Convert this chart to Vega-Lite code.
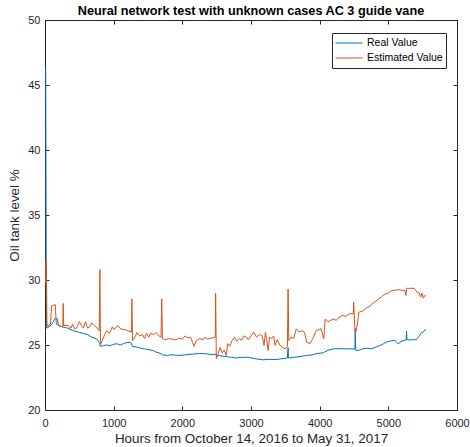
{
  "$schema": "https://vega.github.io/schema/vega-lite/v6.json",
  "autosize": "none",
  "width": 412,
  "height": 390,
  "padding": {"left": 45, "top": 20, "right": 13, "bottom": 37},
  "background": "white",
  "title": {"text": "Neural network test with unknown cases AC 3 guide vane", "font": "Liberation Sans", "fontSize": 12.7, "fontWeight": "bold", "color": "#000000", "offset": -4, "anchor": "middle", "frame": "group"},
  "config": {"view": {"stroke": null}, "font": "Liberation Sans"},
  "datasets": {
    "series": [
      {"series": "Real Value", "x": 10, "y": 46.3},
      {"series": "Real Value", "x": 14, "y": 38},
      {"series": "Real Value", "x": 18, "y": 30},
      {"series": "Real Value", "x": 24, "y": 26.3},
      {"series": "Real Value", "x": 60, "y": 26.4},
      {"series": "Real Value", "x": 100, "y": 26.6},
      {"series": "Real Value", "x": 150, "y": 27.06},
      {"series": "Real Value", "x": 180, "y": 27.0},
      {"series": "Real Value", "x": 195, "y": 26.5},
      {"series": "Real Value", "x": 250, "y": 26.4},
      {"series": "Real Value", "x": 330, "y": 26.3},
      {"series": "Real Value", "x": 412, "y": 26.1},
      {"series": "Real Value", "x": 480, "y": 26.0},
      {"series": "Real Value", "x": 550, "y": 25.9},
      {"series": "Real Value", "x": 620, "y": 25.8},
      {"series": "Real Value", "x": 680, "y": 25.6},
      {"series": "Real Value", "x": 752, "y": 25.48},
      {"series": "Real Value", "x": 790, "y": 25.2},
      {"series": "Real Value", "x": 800, "y": 25.1},
      {"series": "Real Value", "x": 805, "y": 24.9},
      {"series": "Real Value", "x": 850, "y": 24.95},
      {"series": "Real Value", "x": 900, "y": 25.0},
      {"series": "Real Value", "x": 950, "y": 24.95},
      {"series": "Real Value", "x": 1000, "y": 25.05},
      {"series": "Real Value", "x": 1044, "y": 25.1},
      {"series": "Real Value", "x": 1100, "y": 25.0},
      {"series": "Real Value", "x": 1160, "y": 25.15},
      {"series": "Real Value", "x": 1238, "y": 25.22},
      {"series": "Real Value", "x": 1260, "y": 25.1},
      {"series": "Real Value", "x": 1270, "y": 24.88},
      {"series": "Real Value", "x": 1330, "y": 24.85},
      {"series": "Real Value", "x": 1400, "y": 24.75},
      {"series": "Real Value", "x": 1450, "y": 24.7},
      {"series": "Real Value", "x": 1500, "y": 24.65},
      {"series": "Real Value", "x": 1577, "y": 24.58},
      {"series": "Real Value", "x": 1620, "y": 24.45},
      {"series": "Real Value", "x": 1674, "y": 24.37},
      {"series": "Real Value", "x": 1695, "y": 24.3},
      {"series": "Real Value", "x": 1705, "y": 24.25},
      {"series": "Real Value", "x": 1780, "y": 24.2},
      {"series": "Real Value", "x": 1850, "y": 24.25},
      {"series": "Real Value", "x": 1920, "y": 24.2},
      {"series": "Real Value", "x": 1966, "y": 24.2},
      {"series": "Real Value", "x": 2050, "y": 24.25},
      {"series": "Real Value", "x": 2150, "y": 24.3},
      {"series": "Real Value", "x": 2250, "y": 24.35},
      {"series": "Real Value", "x": 2354, "y": 24.32},
      {"series": "Real Value", "x": 2450, "y": 24.25},
      {"series": "Real Value", "x": 2490, "y": 24.3},
      {"series": "Real Value", "x": 2500, "y": 24.2},
      {"series": "Real Value", "x": 2580, "y": 24.15},
      {"series": "Real Value", "x": 2650, "y": 24.1},
      {"series": "Real Value", "x": 2720, "y": 24.05},
      {"series": "Real Value", "x": 2791, "y": 24.0},
      {"series": "Real Value", "x": 2860, "y": 24.05},
      {"series": "Real Value", "x": 2960, "y": 24.06},
      {"series": "Real Value", "x": 3050, "y": 23.95},
      {"series": "Real Value", "x": 3120, "y": 23.9},
      {"series": "Real Value", "x": 3178, "y": 23.86},
      {"series": "Real Value", "x": 3260, "y": 23.9},
      {"series": "Real Value", "x": 3373, "y": 23.88},
      {"series": "Real Value", "x": 3450, "y": 23.95},
      {"series": "Real Value", "x": 3530, "y": 24.0},
      {"series": "Real Value", "x": 3540, "y": 24.8},
      {"series": "Real Value", "x": 3545, "y": 24.0},
      {"series": "Real Value", "x": 3620, "y": 24.05},
      {"series": "Real Value", "x": 3700, "y": 24.1},
      {"series": "Real Value", "x": 3760, "y": 24.15},
      {"series": "Real Value", "x": 3810, "y": 24.19},
      {"series": "Real Value", "x": 3900, "y": 24.25},
      {"series": "Real Value", "x": 3960, "y": 24.35},
      {"series": "Real Value", "x": 4052, "y": 24.4},
      {"series": "Real Value", "x": 4120, "y": 24.6},
      {"series": "Real Value", "x": 4198, "y": 24.7},
      {"series": "Real Value", "x": 4300, "y": 24.72},
      {"series": "Real Value", "x": 4400, "y": 24.7},
      {"series": "Real Value", "x": 4514, "y": 24.7},
      {"series": "Real Value", "x": 4518, "y": 26.25},
      {"series": "Real Value", "x": 4525, "y": 24.6},
      {"series": "Real Value", "x": 4562, "y": 24.58},
      {"series": "Real Value", "x": 4620, "y": 24.7},
      {"series": "Real Value", "x": 4684, "y": 24.75},
      {"series": "Real Value", "x": 4750, "y": 24.7},
      {"series": "Real Value", "x": 4820, "y": 24.85},
      {"series": "Real Value", "x": 4878, "y": 24.96},
      {"series": "Real Value", "x": 4930, "y": 25.1},
      {"series": "Real Value", "x": 4975, "y": 25.22},
      {"series": "Real Value", "x": 5020, "y": 25.3},
      {"series": "Real Value", "x": 5096, "y": 25.35},
      {"series": "Real Value", "x": 5144, "y": 25.1},
      {"series": "Real Value", "x": 5200, "y": 25.3},
      {"series": "Real Value", "x": 5260, "y": 25.4},
      {"series": "Real Value", "x": 5265, "y": 26.06},
      {"series": "Real Value", "x": 5272, "y": 25.4},
      {"series": "Real Value", "x": 5340, "y": 25.4},
      {"series": "Real Value", "x": 5412, "y": 25.42},
      {"series": "Real Value", "x": 5450, "y": 25.7},
      {"series": "Real Value", "x": 5485, "y": 25.98},
      {"series": "Real Value", "x": 5510, "y": 26.0},
      {"series": "Real Value", "x": 5533, "y": 26.17},
      {"series": "Real Value", "x": 5545, "y": 26.2},
      {"series": "Estimated Value", "x": 8, "y": 29.7},
      {"series": "Estimated Value", "x": 16, "y": 31.6},
      {"series": "Estimated Value", "x": 22, "y": 30.0},
      {"series": "Estimated Value", "x": 28, "y": 26.5},
      {"series": "Estimated Value", "x": 60, "y": 26.5},
      {"series": "Estimated Value", "x": 80, "y": 26.6},
      {"series": "Estimated Value", "x": 95, "y": 28.0},
      {"series": "Estimated Value", "x": 150, "y": 28.1},
      {"series": "Estimated Value", "x": 165, "y": 26.6},
      {"series": "Estimated Value", "x": 200, "y": 26.5},
      {"series": "Estimated Value", "x": 260, "y": 26.4},
      {"series": "Estimated Value", "x": 265, "y": 28.2},
      {"series": "Estimated Value", "x": 272, "y": 26.5},
      {"series": "Estimated Value", "x": 330, "y": 26.5},
      {"series": "Estimated Value", "x": 380, "y": 26.3},
      {"series": "Estimated Value", "x": 400, "y": 26.6},
      {"series": "Estimated Value", "x": 440, "y": 26.2},
      {"series": "Estimated Value", "x": 470, "y": 26.4},
      {"series": "Estimated Value", "x": 500, "y": 26.8},
      {"series": "Estimated Value", "x": 530, "y": 26.5},
      {"series": "Estimated Value", "x": 560, "y": 26.3},
      {"series": "Estimated Value", "x": 590, "y": 26.8},
      {"series": "Estimated Value", "x": 620, "y": 26.3},
      {"series": "Estimated Value", "x": 650, "y": 26.4},
      {"series": "Estimated Value", "x": 680, "y": 26.7},
      {"series": "Estimated Value", "x": 720, "y": 26.5},
      {"series": "Estimated Value", "x": 760, "y": 26.3},
      {"series": "Estimated Value", "x": 790, "y": 26.1},
      {"series": "Estimated Value", "x": 800, "y": 30.8},
      {"series": "Estimated Value", "x": 808, "y": 25.0},
      {"series": "Estimated Value", "x": 830, "y": 25.3},
      {"series": "Estimated Value", "x": 870, "y": 25.8},
      {"series": "Estimated Value", "x": 900, "y": 26.1},
      {"series": "Estimated Value", "x": 940, "y": 25.9},
      {"series": "Estimated Value", "x": 980, "y": 26.4},
      {"series": "Estimated Value", "x": 1000, "y": 26.2},
      {"series": "Estimated Value", "x": 1030, "y": 26.3},
      {"series": "Estimated Value", "x": 1060, "y": 26.5},
      {"series": "Estimated Value", "x": 1090, "y": 26.3},
      {"series": "Estimated Value", "x": 1120, "y": 26.2},
      {"series": "Estimated Value", "x": 1150, "y": 26.2},
      {"series": "Estimated Value", "x": 1200, "y": 26.1},
      {"series": "Estimated Value", "x": 1260, "y": 26.0},
      {"series": "Estimated Value", "x": 1265, "y": 28.55},
      {"series": "Estimated Value", "x": 1275, "y": 25.35},
      {"series": "Estimated Value", "x": 1300, "y": 25.5},
      {"series": "Estimated Value", "x": 1340, "y": 25.95},
      {"series": "Estimated Value", "x": 1380, "y": 25.7},
      {"series": "Estimated Value", "x": 1420, "y": 25.8},
      {"series": "Estimated Value", "x": 1450, "y": 25.5},
      {"series": "Estimated Value", "x": 1480, "y": 25.9},
      {"series": "Estimated Value", "x": 1510, "y": 25.6},
      {"series": "Estimated Value", "x": 1540, "y": 25.9},
      {"series": "Estimated Value", "x": 1580, "y": 25.8},
      {"series": "Estimated Value", "x": 1620, "y": 25.95},
      {"series": "Estimated Value", "x": 1660, "y": 25.7},
      {"series": "Estimated Value", "x": 1690, "y": 25.6},
      {"series": "Estimated Value", "x": 1700, "y": 28.55},
      {"series": "Estimated Value", "x": 1710, "y": 25.5},
      {"series": "Estimated Value", "x": 1760, "y": 25.4},
      {"series": "Estimated Value", "x": 1800, "y": 25.5},
      {"series": "Estimated Value", "x": 1850, "y": 25.45},
      {"series": "Estimated Value", "x": 1900, "y": 25.4},
      {"series": "Estimated Value", "x": 1950, "y": 25.5},
      {"series": "Estimated Value", "x": 2000, "y": 25.45},
      {"series": "Estimated Value", "x": 2040, "y": 25.7},
      {"series": "Estimated Value", "x": 2080, "y": 25.55},
      {"series": "Estimated Value", "x": 2120, "y": 25.6},
      {"series": "Estimated Value", "x": 2150, "y": 25.2},
      {"series": "Estimated Value", "x": 2170, "y": 24.9},
      {"series": "Estimated Value", "x": 2200, "y": 25.3},
      {"series": "Estimated Value", "x": 2250, "y": 25.5},
      {"series": "Estimated Value", "x": 2300, "y": 25.4},
      {"series": "Estimated Value", "x": 2330, "y": 25.6},
      {"series": "Estimated Value", "x": 2360, "y": 25.45},
      {"series": "Estimated Value", "x": 2400, "y": 25.5},
      {"series": "Estimated Value", "x": 2440, "y": 25.55},
      {"series": "Estimated Value", "x": 2480, "y": 25.6},
      {"series": "Estimated Value", "x": 2485, "y": 29.0},
      {"series": "Estimated Value", "x": 2495, "y": 23.95},
      {"series": "Estimated Value", "x": 2520, "y": 24.3},
      {"series": "Estimated Value", "x": 2550, "y": 24.8},
      {"series": "Estimated Value", "x": 2580, "y": 24.4},
      {"series": "Estimated Value", "x": 2610, "y": 24.6},
      {"series": "Estimated Value", "x": 2640, "y": 24.2},
      {"series": "Estimated Value", "x": 2660, "y": 25.1},
      {"series": "Estimated Value", "x": 2690, "y": 24.9},
      {"series": "Estimated Value", "x": 2720, "y": 25.3},
      {"series": "Estimated Value", "x": 2760, "y": 25.6},
      {"series": "Estimated Value", "x": 2790, "y": 25.3},
      {"series": "Estimated Value", "x": 2830, "y": 25.5},
      {"series": "Estimated Value", "x": 2860, "y": 25.35},
      {"series": "Estimated Value", "x": 2900, "y": 25.7},
      {"series": "Estimated Value", "x": 2930, "y": 25.6},
      {"series": "Estimated Value", "x": 2960, "y": 25.4},
      {"series": "Estimated Value", "x": 3000, "y": 25.7},
      {"series": "Estimated Value", "x": 3040, "y": 25.98},
      {"series": "Estimated Value", "x": 3080, "y": 25.6},
      {"series": "Estimated Value", "x": 3120, "y": 25.8},
      {"series": "Estimated Value", "x": 3160, "y": 25.73},
      {"series": "Estimated Value", "x": 3190, "y": 24.96},
      {"series": "Estimated Value", "x": 3210, "y": 25.98},
      {"series": "Estimated Value", "x": 3230, "y": 25.4},
      {"series": "Estimated Value", "x": 3250, "y": 24.58},
      {"series": "Estimated Value", "x": 3270, "y": 25.6},
      {"series": "Estimated Value", "x": 3300, "y": 25.5},
      {"series": "Estimated Value", "x": 3330, "y": 25.7},
      {"series": "Estimated Value", "x": 3350, "y": 24.96},
      {"series": "Estimated Value", "x": 3380, "y": 25.4},
      {"series": "Estimated Value", "x": 3420, "y": 25.0},
      {"series": "Estimated Value", "x": 3460, "y": 24.8},
      {"series": "Estimated Value", "x": 3500, "y": 24.7},
      {"series": "Estimated Value", "x": 3530, "y": 24.9},
      {"series": "Estimated Value", "x": 3540, "y": 29.3},
      {"series": "Estimated Value", "x": 3550, "y": 25.35},
      {"series": "Estimated Value", "x": 3580, "y": 25.6},
      {"series": "Estimated Value", "x": 3620, "y": 25.5},
      {"series": "Estimated Value", "x": 3660, "y": 26.25},
      {"series": "Estimated Value", "x": 3700, "y": 26.0},
      {"series": "Estimated Value", "x": 3740, "y": 26.1},
      {"series": "Estimated Value", "x": 3780, "y": 25.98},
      {"series": "Estimated Value", "x": 3810, "y": 25.22},
      {"series": "Estimated Value", "x": 3860, "y": 25.1},
      {"series": "Estimated Value", "x": 3900, "y": 25.5},
      {"series": "Estimated Value", "x": 3950, "y": 26.1},
      {"series": "Estimated Value", "x": 4000, "y": 26.2},
      {"series": "Estimated Value", "x": 4020, "y": 26.25},
      {"series": "Estimated Value", "x": 4060, "y": 25.48},
      {"series": "Estimated Value", "x": 4080, "y": 27.0},
      {"series": "Estimated Value", "x": 4120, "y": 26.8},
      {"series": "Estimated Value", "x": 4160, "y": 26.88},
      {"series": "Estimated Value", "x": 4200, "y": 27.0},
      {"series": "Estimated Value", "x": 4240, "y": 26.9},
      {"series": "Estimated Value", "x": 4280, "y": 27.1},
      {"series": "Estimated Value", "x": 4330, "y": 27.27},
      {"series": "Estimated Value", "x": 4380, "y": 27.2},
      {"series": "Estimated Value", "x": 4430, "y": 27.4},
      {"series": "Estimated Value", "x": 4490, "y": 27.4},
      {"series": "Estimated Value", "x": 4495, "y": 28.3},
      {"series": "Estimated Value", "x": 4510, "y": 26.5},
      {"series": "Estimated Value", "x": 4520, "y": 25.86},
      {"series": "Estimated Value", "x": 4550, "y": 26.6},
      {"series": "Estimated Value", "x": 4570, "y": 27.52},
      {"series": "Estimated Value", "x": 4620, "y": 27.6},
      {"series": "Estimated Value", "x": 4660, "y": 27.78},
      {"series": "Estimated Value", "x": 4700, "y": 27.9},
      {"series": "Estimated Value", "x": 4740, "y": 28.0},
      {"series": "Estimated Value", "x": 4760, "y": 28.17},
      {"series": "Estimated Value", "x": 4800, "y": 28.3},
      {"series": "Estimated Value", "x": 4860, "y": 28.55},
      {"series": "Estimated Value", "x": 4900, "y": 28.7},
      {"series": "Estimated Value", "x": 4960, "y": 28.94},
      {"series": "Estimated Value", "x": 5000, "y": 29.0},
      {"series": "Estimated Value", "x": 5050, "y": 29.19},
      {"series": "Estimated Value", "x": 5100, "y": 29.22},
      {"series": "Estimated Value", "x": 5150, "y": 29.25},
      {"series": "Estimated Value", "x": 5200, "y": 29.2},
      {"series": "Estimated Value", "x": 5240, "y": 29.2},
      {"series": "Estimated Value", "x": 5255, "y": 28.81},
      {"series": "Estimated Value", "x": 5270, "y": 29.37},
      {"series": "Estimated Value", "x": 5300, "y": 29.35},
      {"series": "Estimated Value", "x": 5330, "y": 29.37},
      {"series": "Estimated Value", "x": 5380, "y": 29.35},
      {"series": "Estimated Value", "x": 5420, "y": 29.06},
      {"series": "Estimated Value", "x": 5450, "y": 29.0},
      {"series": "Estimated Value", "x": 5470, "y": 28.68},
      {"series": "Estimated Value", "x": 5490, "y": 29.0},
      {"series": "Estimated Value", "x": 5510, "y": 28.6},
      {"series": "Estimated Value", "x": 5530, "y": 28.8},
      {"series": "Estimated Value", "x": 5545, "y": 28.8}
    ]
  },
  "data": {"name": "series"},
  "resolve": {"axis": {"x": "independent", "y": "independent"}},
  "layer": [
    {
      "mark": {"type": "line", "strokeWidth": 1, "clip": true},
      "encoding": {
        "x": {"field": "x", "type": "quantitative", "scale": {"domain": [0, 6000], "nice": false},
          "axis": {"orient": "bottom", "values": [0, 1000, 2000, 3000, 4000, 5000, 6000], "format": "d", "grid": false, "title": "Hours from October 14, 2016 to  May 31, 2017",
            "titleFont": "Liberation Sans", "titleFontSize": 13.4, "titleFontWeight": "normal", "titleColor": "#262626", "titlePadding": 3,
            "labelFont": "Liberation Sans", "labelFontSize": 11, "labelColor": "#262626", "labelPadding": 11,
            "tickSize": -4, "tickColor": "#262626", "domainColor": "#262626", "labelFlush": false, "labelOverlap": false}},
        "y": {"field": "y", "type": "quantitative", "scale": {"domain": [20, 50], "nice": false, "zero": false},
          "axis": {"orient": "left", "values": [20, 25, 30, 35, 40, 45, 50], "format": "d", "grid": false, "title": "Oil tank level %",
            "titleFont": "Liberation Sans", "titleFontSize": 13.4, "titleFontWeight": "normal", "titleColor": "#262626", "titlePadding": 6,
            "labelFont": "Liberation Sans", "labelFontSize": 11, "labelColor": "#262626", "labelPadding": 9,
            "tickSize": -4, "tickColor": "#262626", "domainColor": "#262626", "labelFlush": false, "labelOverlap": false}},
        "color": {"field": "series", "type": "nominal",
          "scale": {"domain": ["Real Value", "Estimated Value"], "range": ["#0072BD", "#D95319"]},
          "legend": {"title": null, "orient": "none", "legendX": 287, "legendY": 13, "symbolType": "M-1,0H1", "symbolSize": 729, "symbolStrokeWidth": 1,
            "labelFont": "Liberation Sans", "labelFontSize": 10.5, "labelColor": "#000000", "fillColor": "white", "strokeColor": "#262626",
            "padding": 3, "rowPadding": 1, "clipHeight": 14, "labelOffset": 4, "symbolOffset": 0}}
      }
    },
    {
      "mark": {"type": "point", "opacity": 0},
      "encoding": {
        "x": {"field": "x", "type": "quantitative",
          "axis": {"orient": "top", "values": [0, 1000, 2000, 3000, 4000, 5000, 6000], "grid": false, "title": null, "labels": false,
            "tickSize": -4, "tickColor": "#262626", "domainColor": "#262626"}},
        "y": {"field": "y", "type": "quantitative",
          "axis": {"orient": "right", "values": [20, 25, 30, 35, 40, 45, 50], "grid": false, "title": null, "labels": false,
            "tickSize": -4, "tickColor": "#262626", "domainColor": "#262626"}}
      }
    }
  ]
}
